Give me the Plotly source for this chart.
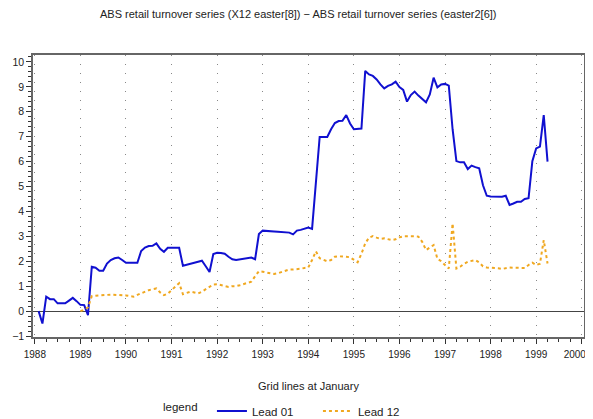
import plotly.graph_objects as go

# Monthly series; Lead 01 starts Feb 1988 (month index 1), Lead 12 starts Jan 1989 (month index 12)
lead01_start = 1
lead01 = [
    0.0, -0.5, 0.58, 0.48, 0.48, 0.31, 0.31, 0.31, 0.42, 0.53, 0.4, 0.25,
    0.24, -0.16, 1.78, 1.74, 1.62, 1.62, 1.91, 2.05, 2.12, 2.15, 2.05, 1.94,
    1.94, 1.94, 1.94, 2.41, 2.55, 2.61, 2.62, 2.72, 2.5, 2.38, 2.54, 2.54,
    2.54, 2.54, 1.82, 1.87, 1.9, 1.94, 1.98, 2.02, 1.8, 1.57, 2.29, 2.34,
    2.33, 2.3, 2.18, 2.08, 2.05, 2.08, 2.11, 2.14, 2.15, 2.08, 3.09, 3.23,
    3.21, 3.2, 3.19, 3.18, 3.17, 3.16, 3.15, 3.08, 3.23, 3.26, 3.29, 3.35,
    3.3, 5.15, 6.99, 6.99, 6.99, 7.3, 7.55, 7.63, 7.64, 7.87, 7.53, 7.3,
    7.31, 7.33, 9.64, 9.5, 9.44, 9.3, 9.1, 8.94, 9.04, 9.1, 9.21, 8.99,
    8.88, 8.41, 8.67, 8.81, 8.65, 8.5, 8.38, 8.7, 9.37, 8.98, 9.1, 9.12,
    9.05, 7.3, 6.02, 5.97, 5.97, 5.7, 5.84, 5.78, 5.73, 5.05, 4.63, 4.6,
    4.6, 4.59, 4.59, 4.63, 4.26, 4.32, 4.39, 4.39, 4.5, 4.53, 6.02, 6.53,
    6.6, 7.87, 6.0,
]
lead12_start = 12
lead12 = [
    0.0, 0.05, 0.15, 0.6, 0.62, 0.64, 0.65, 0.65, 0.66, 0.66, 0.65, 0.64,
    0.63, 0.6, 0.58, 0.65, 0.72, 0.78, 0.84, 0.88, 0.91, 0.75, 0.64, 0.7,
    0.85, 1.0, 1.12, 0.68, 0.73, 0.78, 0.75, 0.71, 0.78, 0.87, 0.97, 1.07,
    1.08, 1.04, 1.0, 0.97, 1.0, 1.0, 1.04, 1.08, 1.14, 1.18, 1.4, 1.6,
    1.58, 1.55, 1.52, 1.49, 1.52, 1.58, 1.62, 1.67, 1.67, 1.67, 1.7, 1.73,
    1.75, 2.05, 2.4, 2.12, 2.05, 2.0, 2.05, 2.18, 2.2, 2.2, 2.18, 2.16,
    2.05, 1.96, 2.3, 2.72, 2.95, 3.01, 2.95, 2.9, 2.92, 2.88, 2.85, 2.88,
    2.96, 3.0, 3.01, 3.0, 3.0, 2.99, 2.78, 2.45, 2.55, 2.65, 2.1, 2.0,
    1.85, 1.71, 3.52, 1.71, 1.78, 1.9, 1.98, 2.02, 2.05, 1.95, 1.8, 1.75,
    1.75, 1.74, 1.72, 1.69, 1.72, 1.75, 1.74, 1.74, 1.73, 1.73, 1.85, 1.94,
    1.85, 1.9, 2.85, 1.91,
]
base_year = 1988
year_ticks = list(range(1988, 2001))
y_ticks = list(range(-1, 11))

x01 = [base_year + (lead01_start + i) / 12 for i in range(len(lead01))]
x12 = [base_year + (lead12_start + i) / 12 for i in range(len(lead12))]

FONT = "Liberation Sans, Arial, sans-serif"
# page body has an 8px default margin, so the figure is sized/offset to compensate
OFF = 8
W, H = 593 - OFF, 419 - OFF
ML, MR, MT, MB = 33 - OFF, 9, 55 - OFF, 82
PH = H - MT - MB
PW = W - ML - MR


def paper_y(py_screen):
    return (H - MB - (py_screen - OFF)) / PH


def paper_x(px_screen):
    return ((px_screen - OFF) - ML) / PW


# last label padded with trailing no-break spaces so it stays inside the page edge
x_ticktext = [str(y) for y in year_ticks]
x_ticktext[-1] = x_ticktext[-1] + "\u00a0" * 5

fig = go.Figure()
fig.add_trace(go.Scatter(x=x01, y=lead01, mode="lines", name="Lead 01",
                         line=dict(color="#1010d0", width=2)))
fig.add_trace(go.Scatter(x=x12, y=lead12, mode="lines", name="Lead 12",
                         line=dict(color="#f0a820", width=2, dash="3px,3px")))

fig.update_layout(
    width=W, height=H,
    margin=dict(l=ML, r=MR, t=MT, b=MB, autoexpand=False),
    paper_bgcolor="white", plot_bgcolor="white",
    font=dict(family=FONT, size=11, color="#222"),
    showlegend=True,
    legend=dict(orientation="h", xref="container", yref="container",
                x=(161 - OFF) / W, xanchor="left", y=1 - (411 - OFF) / H, yanchor="middle",
                title=dict(text="legend\u00a0\u00a0", side="left", font=dict(size=11.5)),
                font=dict(size=11.5), entrywidth=61, tracegroupgap=0,
                bgcolor="rgba(0,0,0,0)"),
)
fig.add_annotation(text="ABS retail turnover series (X12 easter[8]) \u2212 ABS retail turnover series (easter2[6])",
                   xref="paper", yref="paper", x=paper_x(298), y=paper_y(14),
                   showarrow=False, font=dict(size=11, color="#222"), xanchor="center", yanchor="middle")
fig.add_annotation(text="Grid lines at January",
                   xref="paper", yref="paper", x=paper_x(308), y=paper_y(386),
                   showarrow=False, font=dict(size=11, color="#222"), xanchor="center", yanchor="middle")

fig.update_xaxes(
    range=[1987.96, 2000.05], tickmode="array", tickvals=year_ticks,
    ticktext=x_ticktext, automargin=False,
    ticklabeloverflow="allow",
    showgrid=True, gridcolor="#888", griddash="1px,8px", gridwidth=1,
    showline=True, linecolor="#666", linewidth=1.5, mirror=True,
    ticks="outside", ticklen=5, tickcolor="#333", tickfont=dict(size=10),
    ticklabelstandoff=2,
    minor=dict(dtick=0.25, tick0=1988, ticks="outside", ticklen=3, tickcolor="#333", showgrid=False),
    zeroline=False,
)
fig.update_yaxes(
    range=[-1.04, 10.28], tickmode="array", tickvals=y_ticks,
    ticktext=["\u22121" if v == -1 else str(v) for v in y_ticks], automargin=False,
    ticklabeloverflow="allow",
    showgrid=False,
    showline=True, linecolor="#666", linewidth=1.5, mirror=True,
    ticks="outside", ticklen=5, tickcolor="#333", tickfont=dict(size=10.5),
    minor=dict(dtick=0.2, tick0=0, ticks="outside", ticklen=3, tickcolor="#333", showgrid=False),
    zeroline=True, zerolinecolor="#444", zerolinewidth=1,
)

fig.write_html("out.html")
